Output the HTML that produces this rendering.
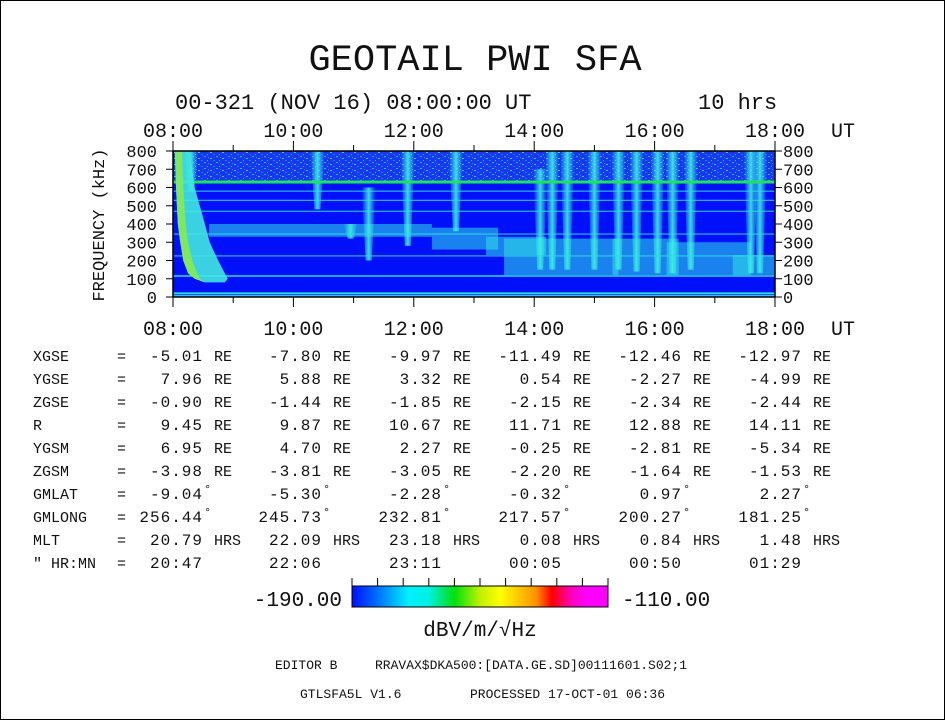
<!DOCTYPE html>
<html><head><meta charset="utf-8"><style>
body{margin:0;background:#fff}
svg{display:block}
text{font-family:"Liberation Mono",monospace;fill:#111}
</style></head><body>
<svg id="s" width="945" height="720" viewBox="0 0 945 720">
<defs>
<pattern id="speck" width="12" height="6" patternUnits="userSpaceOnUse">
<rect width="12" height="6" fill="#1838f0"/>
<rect x="0" y="0" width="2" height="1" fill="#20b8f0"/><rect x="6" y="2" width="2" height="1" fill="#30d0f0"/>
<rect x="9" y="4" width="2" height="1" fill="#1080f0"/><rect x="3" y="4" width="1" height="1" fill="#40c8e8"/>
<rect x="10" y="1" width="1" height="1" fill="#0060f0"/><rect x="4" y="1" width="1" height="1" fill="#2090f0"/>
</pattern>
<linearGradient id="cbar" x1="0" x2="1">
<stop offset="0" stop-color="#0010ff"/><stop offset="0.1" stop-color="#0070ff"/><stop offset="0.22" stop-color="#00f0ff"/>
<stop offset="0.3" stop-color="#00f0e0"/><stop offset="0.4" stop-color="#00e010"/><stop offset="0.5" stop-color="#c0f000"/>
<stop offset="0.58" stop-color="#ffff00"/><stop offset="0.72" stop-color="#ff9000"/><stop offset="0.78" stop-color="#ff0000"/>
<stop offset="0.86" stop-color="#ff00c0"/><stop offset="0.92" stop-color="#ff00ff"/><stop offset="1" stop-color="#ff00ff"/>
</linearGradient>
<linearGradient id="burstg" x1="0" x2="1">
<stop offset="0" stop-color="#30e8e8" stop-opacity="0"/><stop offset="0.5" stop-color="#40f0e0" stop-opacity="0.9"/><stop offset="1" stop-color="#30e8e8" stop-opacity="0"/>
</linearGradient>
</defs>
<rect x="0.5" y="0.5" width="944" height="719" fill="none" stroke="#000"/>
<text x="475" y="70" font-size="37" text-anchor="middle">GEOTAIL PWI SFA</text>
<text x="175" y="109" font-size="22">00-321 (NOV 16) 08:00:00 UT</text>
<text x="698" y="109" font-size="22">10 hrs</text>
<g id="plot"></g>
<g id="axes"></g>
<text transform="translate(104,225) rotate(-90)" font-size="17" text-anchor="middle">FREQUENCY (kHz)</text>
<g id="table"></g>
<g>
<rect x="352" y="586" width="256" height="21" fill="url(#cbar)" stroke="#000"/>
<g id="cbticks"></g>
<text x="342" y="606" font-size="21" text-anchor="end">-190.00</text>
<text x="622" y="606" font-size="21">-110.00</text>
<text x="480" y="636" font-size="21" text-anchor="middle">dBV/m/√Hz</text>
</g>
<text x="275" y="669" font-size="13">EDITOR B</text>
<text x="375" y="669" font-size="13">RRAVAX$DKA500:[DATA.GE.SD]00111601.S02;1</text>
<text x="300" y="698" font-size="13">GTLSFA5L V1.6</text>
<text x="470" y="698" font-size="13">PROCESSED 17-OCT-01  06:36</text>
</svg>
<script>
const NS="http://www.w3.org/2000/svg";
// axis data
const timeTicks=[8,10,12,14,16,18];
const timeLabels=["08:00","10:00","12:00","14:00","16:00","18:00"];
const freqTicks=[0,100,200,300,400,500,600,700,800];
// spectrogram features (hours, kHz)
const lineFreqs=[630,580,530,470,345,225,115,20,5];
const lineWidths=[3,1,1,1,1,1,1.5,2,2];
const burstTimes=[8.3,10.4,10.95,11.25,11.9,12.7,14.1,14.3,14.55,15.0,15.4,15.7,16.05,16.3,16.6,17.6,17.75];
const burstTop=[800,800,400,600,800,800,700,800,800,800,800,800,800,800,800,800,800];
const burstBottom=[580,480,320,200,280,360,150,150,150,150,150,140,130,130,150,130,130];
const blobStart=[8.6,12.3,13.2,13.5,15.3,16.2,17.3];
const blobEnd=[12.3,13.4,14.2,15.4,16.4,17.6,18.0];
const blobTop=[400,380,330,320,320,300,230];
const blobBottom=[330,260,230,120,120,120,120];
const curveF=[800,600,400,300,200,130,100,80];
const curveLeft=[8.03,8.05,8.08,8.12,8.17,8.25,8.36,8.53];
const curveRight=[8.28,8.36,8.53,8.61,8.75,8.86,8.91,8.86];
const coreRight=[8.15,8.17,8.21,8.25,8.32,8.4,8.45,8.53];
const tableLabels=["XGSE","YGSE","ZGSE","R","YGSM","ZGSM","GMLAT","GMLONG","MLT","\" HR:MN"];
const tableUnits=["RE","RE","RE","RE","RE","RE","°","°","HRS",""];
const tableValues=[
["-5.01","-7.80","-9.97","-11.49","-12.46","-12.97"],
["7.96","5.88","3.32","0.54","-2.27","-4.99"],
["-0.90","-1.44","-1.85","-2.15","-2.34","-2.44"],
["9.45","9.87","10.67","11.71","12.88","14.11"],
["6.95","4.70","2.27","-0.25","-2.81","-5.34"],
["-3.98","-3.81","-3.05","-2.20","-1.64","-1.53"],
["-9.04","-5.30","-2.28","-0.32","0.97","2.27"],
["256.44","245.73","232.81","217.57","200.27","181.25"],
["20.79","22.09","23.18","0.08","0.84","1.48"],
["20:47","22:06","23:11","00:05","00:50","01:29"]];
const X0=173,X1=775,Y0=297,Y1=151;
const xs=t=>X0+(t-8)/10*(X1-X0);
const ys=f=>Y0-(f/800)*(Y0-Y1);
function mk(tag,at,par){const e=document.createElementNS(NS,tag);for(const k in at)e.setAttribute(k,at[k]);par.appendChild(e);return e;}
const P=document.getElementById('plot'),A=document.getElementById('axes'),T=document.getElementById('table');
let r=mk('rect',{x:X0,y:Y1,width:X1-X0,height:Y0-Y1,fill:'#0010f8'},P);

r=mk('rect',{x:X0,y:Y1,width:X1-X0,height:ys(630)-Y1,fill:'url(#speck)'},P);

blobStart.forEach((s,i)=>{const e=mk('rect',{x:xs(s),y:ys(blobTop[i]),width:xs(blobEnd[i])-xs(s),height:ys(blobBottom[i])-ys(blobTop[i]),fill:'#30e0e8',opacity:0.55},P);
});
burstTimes.forEach((t,i)=>{const x=xs(t),w=7;const e=mk('polygon',{points:`${x-w},${ys(burstTop[i])} ${x+w},${ys(burstTop[i])} ${x+3},${ys(burstBottom[i])} ${x-3},${ys(burstBottom[i])}`,fill:'url(#burstg)'},P);
});
lineFreqs.forEach((f,i)=>{const e=mk('rect',{x:X0,y:ys(f)-lineWidths[i]/2,width:X1-X0,height:lineWidths[i],fill:i==0?'#20e060':'#30d8e0'},P);
});
{const left=curveF.map((f,i)=>`${xs(curveLeft[i])},${ys(f)}`);
const right=curveF.map((f,i)=>`${xs(curveRight[i])},${ys(f)}`).reverse();
let e=mk('polygon',{points:left.concat(right).join(' '),fill:'#40e8e0',opacity:0.9},P);
const cr=curveF.map((f,i)=>`${xs(coreRight[i])},${ys(f)}`).reverse();
e=mk('polygon',{points:left.concat(cr).join(' '),fill:'#80e860'},P);}
r=mk('rect',{x:X0,y:Y1,width:X1-X0,height:Y0-Y1,fill:'none',stroke:'#000','stroke-width':1.5},A);

for(let h=8;h<=18;h+=0.5){const x=xs(h),big=h%2==0,mid=h%1==0;const L=big?10:(mid?6:0);if(!L)continue;
mk('line',{x1:x,x2:x,y1:Y1,y2:Y1-L,stroke:'#000'},A);mk('line',{x1:x,x2:x,y1:Y0,y2:Y0+L,stroke:'#000'},A);}
timeTicks.forEach((t,i)=>{let e=mk('text',{x:xs(t),y:137,'font-size':20,'text-anchor':'middle'},A);e.textContent=timeLabels[i];

e=mk('text',{x:xs(t),y:335,'font-size':20,'text-anchor':'middle'},A);e.textContent=timeLabels[i];
});
[137,335].forEach(y=>{const e=mk('text',{x:843,y:y,'font-size':20,'text-anchor':'middle'},A);e.textContent='UT';
});
freqTicks.forEach(f=>{const y=ys(f);mk('line',{x1:X0,x2:X0-7,y1:y,y2:y,stroke:'#000'},A);mk('line',{x1:X1,x2:X1+7,y1:y,y2:y,stroke:'#000'},A);
let e=mk('text',{x:157,y:y+6,'font-size':17,'text-anchor':'end'},A);e.textContent=f;
e=mk('text',{x:783,y:y+6,'font-size':17},A);e.textContent=f;});
const colR=[203,322,442,562,682,802];
tableLabels.forEach((l,i)=>{const y=361+23*i;let e=mk('text',{x:33,y:y,'font-size':15},T);e.textContent=l;

e=mk('text',{x:117,y:y,'font-size':15},T);e.textContent='=';
tableValues[i].forEach((v,j)=>{let t=mk('text',{x:colR[j],y:y,'font-size':16,'text-anchor':'end','letter-spacing':1},T);t.textContent=v;

if(tableUnits[i]){t=mk('text',{x:colR[j]+(tableUnits[i]=='°'?1:11),y:tableUnits[i]=='°'?y-6:y,'font-size':tableUnits[i]=='°'?12:15},T);t.textContent=tableUnits[i];}});});
const C=document.getElementById('cbticks');for(let i=0;i<=10;i++){const x=352+i*25.6;mk('line',{x1:x,x2:x,y1:586,y2:578,stroke:'#000'},C);}
</script>
</body></html>
